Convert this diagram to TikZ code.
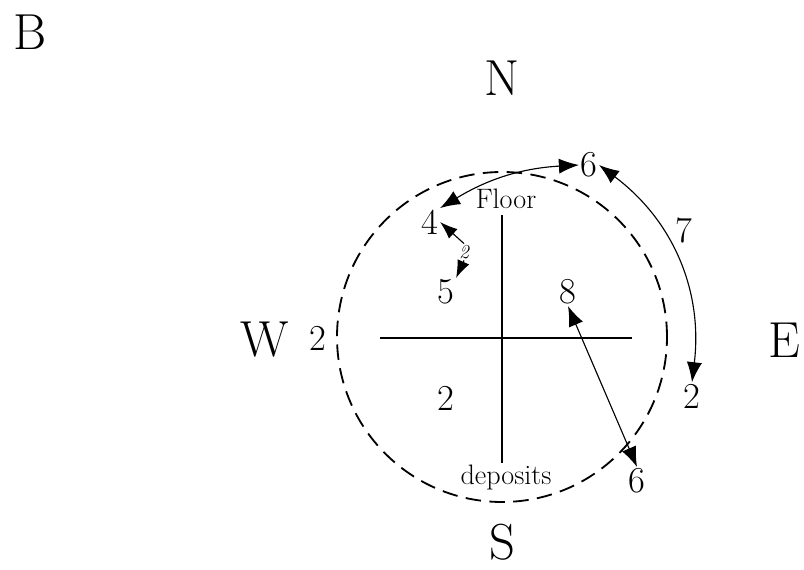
\documentclass[tikz,border=0pt]{standalone}
\usepackage{fontspec}
\usetikzlibrary{arrows.meta}
\begin{document}
\begin{tikzpicture}[
        x=0.025cm, y=-0.025cm,
        % estilos
        big/.style={font=\fontsize{36}{36}\selectfont},
        num/.style={font=\fontsize{26}{26}\selectfont, inner sep=1pt},
        word/.style={font=\fontsize{20}{20}\selectfont, inner sep=1pt},
        tiny/.style={font=\fontsize{14}{14}\selectfont\itshape, inner sep=1pt},
        axis/.style={line width=1.3pt},
        rim/.style={line width=1.3pt, dash pattern=on 11pt off 6pt},
        move/.style={{Latex[length=5mm,width=3.8mm]}-{Latex[length=5mm,width=3.8mm]}, line width=0.8pt},
        hop/.style={-{Latex[length=4.4mm,width=3.2mm]}, line width=0.8pt}
    ]
    \useasboundingbox (0,0) rectangle (804,570);

    % Letras y puntos cardinales
    \node[big] (panel) at (30,32) {B};
    \node[big] (north) at (502,78) {N};
    \node[big] (south) at (502,542) {S};
    \node[big] (west) at (265,340) {W};
    \node[big] (east) at (784,340) {E};

    % Circulo y cruz
    \node[draw, rim, circle, minimum size=330*0.025cm, inner sep=0pt] (pit) at (502,337) {};
    \coordinate (wend) at (380,338);
    \coordinate (eend) at (632,338);
    \coordinate (nend) at (502,215);
    \coordinate (send) at (502,463);
    \draw[axis] (wend) -- (eend);
    \draw[axis] (nend) -- (send);

    \node[word] (floor) at (506,199) {Floor};
    \node[word] (deposits) at (506,477) {deposits};

    % Cifras
    \node[num] (wtwo) at (318,338) {2};
    \node[num] (four) at (430,222) {4};
    \node[num] (five) at (446,292) {5};
    \node[num] (eight) at (568,292) {8};
    \node[num] (swtwo) at (446,398) {2};
    \node[num] (etwo) at (692,396) {2};
    \node[num] (ntsix) at (589,165) {6};
    \node[num] (seven) at (684,230) {7};
    \node[num] (sesix) at (637,481) {6};
    \node[tiny] (step2) at (464,252) {2};

    % Flechas
    \draw[move] (four.north east) to[bend left=14] (ntsix.west);
    \draw[move] (ntsix.east) to[bend left=30] (etwo.north);
    \draw[move] (eight.south) -- (sesix.north);
    \draw[hop] (step2.north) -- (four.east);
    \draw[hop] (step2.south) -- (five.north east);

\end{tikzpicture}
\end{document}
